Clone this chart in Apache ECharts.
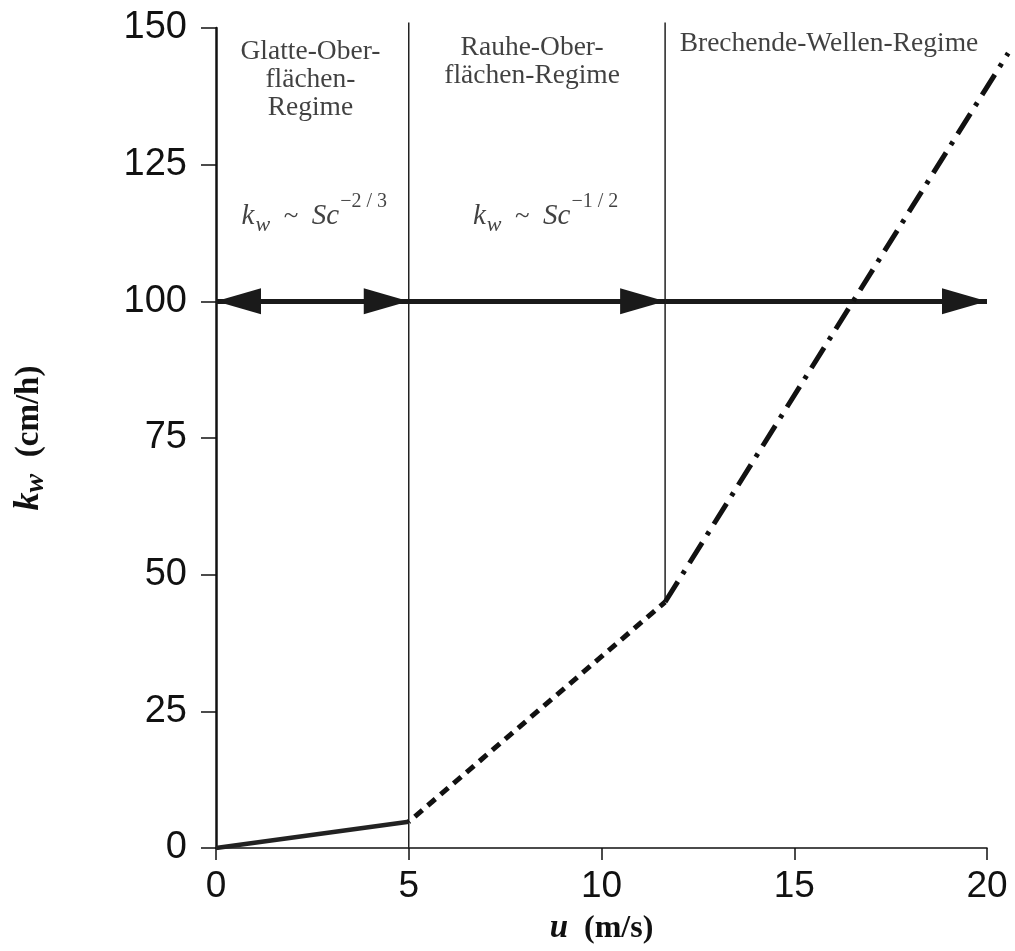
<!DOCTYPE html>
<html>
<head>
<meta charset="utf-8">
<script src="https://cdn.jsdelivr.net/npm/echarts@6/dist/echarts.min.js"></script>
<style>
html,body{margin:0;padding:0;background:#fff;}
#chart{width:1015px;height:951px;}
</style>
</head>
<body>
<div id="chart"></div>
<script>
// ---- data ----
const xTicks = [0, 5, 10, 15, 20];
const yTicks = [0, 25, 50, 75, 100, 125, 150];
const smoothU = [0, 5];
const smoothK = [0, 4.8];
const roughU = [5, 11.65];
const roughK = [4.8, 45];
const breakU = [11.65, 20.55];
const breakK = [45, 145.4];
const regimeBounds = [5, 11.65];
const regimeArrowLevel = 100;
const regimeTitles = ['Glatte-Ober-\nflächen-\nRegime', 'Rauhe-Ober-\nflächen-Regime', 'Brechende-Wellen-Regime'];
const scalingExponents = ['−2 / 3', '−1 / 2'];

const pairs = (xs, ys) => xs.map((x, i) => [x, ys[i]]);
const SERIF = '"Liberation Serif", "Times New Roman", serif';
const SANS = '"Liberation Sans", Arial, sans-serif';

const chart = echarts.init(document.getElementById('chart'), null, {renderer: 'canvas'});

// arrow head whose tip sits at the symbol centre (points "up" before rotation)
const HEAD = 'path://M0,-2 L0,-2 M0,0 L1,2 L-1,2 Z';

const titleLabel = {
  show: true, position: 'inside', align: 'center', verticalAlign: 'top',
  fontFamily: SERIF, fontSize: 27.5, lineHeight: 28, color: '#111'
};
const formulaRich = {
  i: {fontFamily: SERIF, fontStyle: 'italic', fontSize: 29, color: '#111', lineHeight: 46},
  sub: {fontFamily: SERIF, fontStyle: 'italic', fontSize: 22, color: '#111', padding: [18, 0, 0, 1]},
  t: {fontFamily: SERIF, fontSize: 27, color: '#111'},
  sup: {fontFamily: SERIF, fontSize: 20, color: '#111', padding: [0, 0, 30, 1]}
};
const formulaText = e => '{i|k}{sub|w}{t|\u2002~\u2002}{i|Sc}{sup|' + e + '}';

const annotations = [
  {value: [2.45, 148.2], label: Object.assign({}, titleLabel, {formatter: regimeTitles[0]})},
  {value: [8.2, 149], label: Object.assign({}, titleLabel, {formatter: regimeTitles[1]})},
  {value: [15.9, 149.6], label: Object.assign({}, titleLabel, {formatter: regimeTitles[2]})},
  {value: [2.55, 115.5], label: {show: true, position: 'inside', align: 'center', verticalAlign: 'middle',
     formatter: formulaText(scalingExponents[0]), rich: formulaRich}},
  {value: [8.55, 115.5], label: {show: true, position: 'inside', align: 'center', verticalAlign: 'middle',
     formatter: formulaText(scalingExponents[1]), rich: formulaRich}}
];

const option = {
  backgroundColor: '#fff',
  animation: false,
  grid: {left: 216, right: 28, top: 28, bottom: 103, containLabel: false},
  xAxis: {
    type: 'value', min: 0, max: 20, interval: 5,
    name: '{u|u}{t|  (m/s)}', nameLocation: 'middle', nameGap: 64,
    nameTextStyle: {rich: {
      u: {fontFamily: SERIF, fontWeight: 'bold', fontStyle: 'italic', fontSize: 33, color: '#111'},
      t: {fontFamily: SERIF, fontWeight: 'bold', fontSize: 32, color: '#111'}
    }},
    axisLine: {show: true, onZero: false, lineStyle: {color: '#111', width: 1.5}},
    axisTick: {show: true, length: 12, lineStyle: {color: '#111', width: 1.5}},
    axisLabel: {fontFamily: SANS, fontSize: 37, color: '#111', margin: 20,
      formatter: v => xTicks.includes(v) ? String(v) : ''},
    splitLine: {show: false}
  },
  yAxis: {
    type: 'value', min: 0, max: 150, interval: 25,
    name: '{k|k}{w|w}{t|  (cm/h)}', nameLocation: 'middle', nameGap: 166,
    nameTextStyle: {rich: {
      k: {fontFamily: SERIF, fontWeight: 'bold', fontStyle: 'italic', fontSize: 36, color: '#111'},
      w: {fontFamily: SERIF, fontWeight: 'bold', fontStyle: 'italic', fontSize: 28, color: '#111', padding: [14, 0, 0, 0]},
      t: {fontFamily: SERIF, fontWeight: 'bold', fontSize: 33, color: '#111'}
    }},
    axisLine: {show: true, onZero: false, lineStyle: {color: '#111', width: 2.5}},
    axisTick: {show: true, length: 15, lineStyle: {color: '#111', width: 1.5}},
    axisLabel: {fontFamily: SANS, fontSize: 38, color: '#111', margin: 29,
      formatter: v => yTicks.includes(v) ? String(v) : ''},
    splitLine: {show: false}
  },
  series: [
    {
      name: 'Glatte Oberfläche', type: 'line', data: pairs(smoothU, smoothK),
      symbol: 'none', lineStyle: {color: '#222', width: 4.5, type: 'solid'}, z: 5
    },
    {
      name: 'Rauhe Oberfläche', type: 'line', data: pairs(roughU, roughK),
      symbol: 'none', lineStyle: {color: '#111', width: 5, type: [10, 7], dashOffset: -8}, z: 5
    },
    {
      name: 'Brechende Wellen', type: 'custom', data: pairs(breakU, breakK), clip: false, z: 5,
      renderItem: function (params, api) {
        if (params.dataIndex !== 0) return null;
        const pts = breakU.map((u, i) => api.coord([u, breakK[i]]));
        return {
          type: 'polyline', shape: {points: pts},
          style: {stroke: '#111', lineWidth: 5, lineDash: [24, 9, 4, 9], fill: null}
        };
      }
    },
    {
      name: 'Grenze 1', type: 'line', data: [[regimeBounds[0], 0], [regimeBounds[0], 151]],
      symbol: 'none', clip: false, lineStyle: {color: '#222', width: 1.5}, z: 3
    },
    {
      name: 'Grenze 2', type: 'line', data: [[regimeBounds[1], roughK[1]], [regimeBounds[1], 151]],
      symbol: 'none', clip: false, lineStyle: {color: '#222', width: 1.5}, z: 3
    },
    {
      name: 'Regime', type: 'line', data: [], z: 6,
      markLine: {
        silent: true, animation: false,
        symbolSize: [26, 90],
        label: {show: false},
        lineStyle: {color: '#1a1a1a', width: 5, type: 'solid'},
        emphasis: {disabled: true},
        data: [
          [{coord: [0, regimeArrowLevel], symbol: HEAD}, {coord: [regimeBounds[0], regimeArrowLevel], symbol: HEAD}],
          [{coord: [regimeBounds[0], regimeArrowLevel], symbol: 'none'}, {coord: [regimeBounds[1], regimeArrowLevel], symbol: HEAD}],
          [{coord: [regimeBounds[1], regimeArrowLevel], symbol: 'none'}, {coord: [20, regimeArrowLevel], symbol: HEAD}]
        ]
      }
    },
    {
      name: 'Beschriftung', type: 'scatter', symbolSize: 0, data: annotations, z: 10,
      silent: true, clip: false
    }
  ]
};
chart.setOption(option);
</script>
</body>
</html>
